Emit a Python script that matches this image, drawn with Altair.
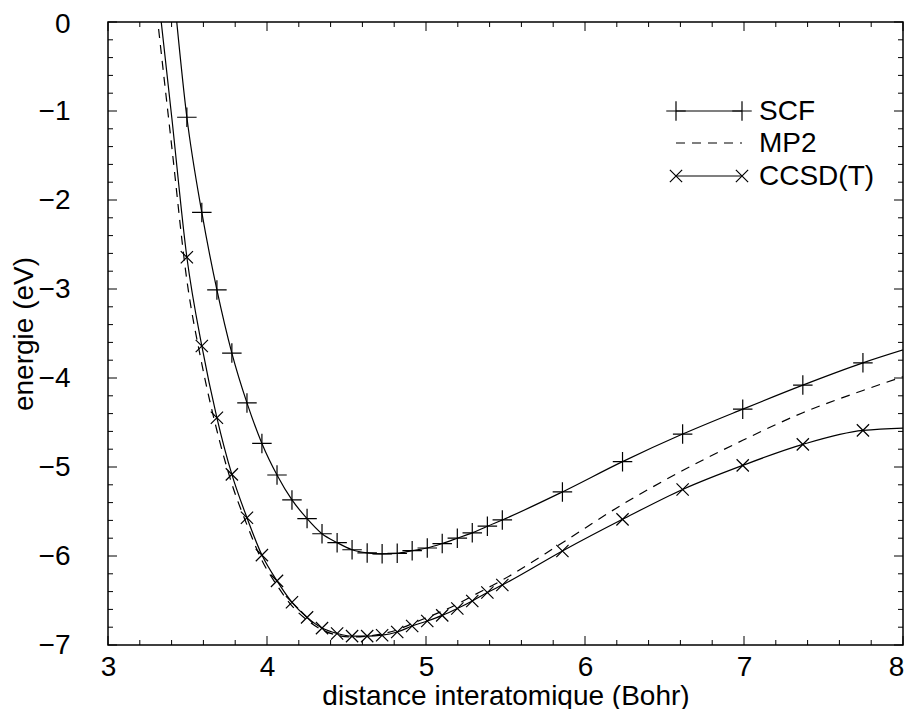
import altair as alt
import pandas as pd

# interatomic distances (Bohr) where the curves are sampled
x_line = [3.307, 3.401, 3.496, 3.590, 3.685, 3.779, 3.874, 3.968, 4.063, 4.157,
          4.252, 4.346, 4.441, 4.535, 4.630, 4.724, 4.819, 4.913, 5.008, 5.102,
          5.197, 5.291, 5.386, 5.480, 5.858, 6.236, 6.614, 6.992, 7.370, 7.748, 8.126]
# which samples carry a marker
marked = [False, False] + [True] * 28 + [False]

scf = [2.30, 0.57, -1.07, -2.14, -3.01, -3.72, -4.28, -4.735, -5.09, -5.37,
       -5.58, -5.75, -5.85, -5.93, -5.965, -5.975, -5.97, -5.94, -5.91, -5.86,
       -5.80, -5.74, -5.665, -5.595, -5.28, -4.94, -4.63, -4.35, -4.08, -3.83, -3.616]
mp2 = [0.10, -1.40, -2.90, -3.84, -4.59, -5.19, -5.65, -6.05, -6.33, -6.56,
       -6.72, -6.83, -6.89, -6.91, -6.90, -6.875, -6.83, -6.76, -6.69, -6.62,
       -6.54, -6.45, -6.36, -6.27, -5.85, -5.42, -5.04, -4.70, -4.39, -4.14, -3.91]
ccsd = [0.45, -1.07, -2.643, -3.64, -4.447, -5.083, -5.57, -5.99, -6.28, -6.52,
        -6.69, -6.81, -6.87, -6.90, -6.90, -6.89, -6.854, -6.787, -6.73, -6.667,
        -6.59, -6.505, -6.41, -6.326, -5.944, -5.588, -5.252, -4.982, -4.746, -4.589, -4.556]

series_names = ["SCF", "MP2", "CCSD(T)"]
x_major = [3, 4, 5, 6, 7, 8]
x_minor = [3.2, 3.4, 3.6, 3.8, 4.2, 4.4, 4.6, 4.8, 5.2, 5.4, 5.6, 5.8,
           6.2, 6.4, 6.6, 6.8, 7.2, 7.4, 7.6, 7.8]
y_major = [0, -1, -2, -3, -4, -5, -6, -7]
y_minor = [-0.2, -0.4, -0.6, -0.8, -1.2, -1.4, -1.6, -1.8, -2.2, -2.4, -2.6, -2.8,
           -3.2, -3.4, -3.6, -3.8, -4.2, -4.4, -4.6, -4.8, -5.2, -5.4, -5.6, -5.8,
           -6.2, -6.4, -6.6, -6.8]

W, H = 795, 623
FONT = "Liberation Sans"
FS = 28
PLUS = "M-1,0L1,0M0,-1L0,1"
XMARK = "M-1,-1L1,1M-1,1L1,-1"

xs = alt.Scale(domain=[3, 8], nice=False, zero=False)
ys = alt.Scale(domain=[-7, 0], nice=False, zero=False)

def line_df(vals, name):
    return pd.DataFrame({"x": x_line, "y": vals, "s": name, "m": marked})

df_scf = line_df(scf, series_names[0])
df_mp2 = line_df(mp2, series_names[1])
df_cc = line_df(ccsd, series_names[2])

X = alt.X("x:Q", scale=xs, title="distance interatomique (Bohr)",
          axis=alt.Axis(values=x_major, format="d", ticks=False, domain=False, grid=False,
                        labelFlush=False, labelFont=FONT, labelFontSize=FS, labelPadding=8,
                        labelOffset=alt.condition("datum.value == 8", alt.value(-7), alt.value(0)),
                        titleFont=FONT, titleFontSize=FS, titleFontWeight="normal",
                        titlePadding=1, labelColor="black", titleColor="black"))
Y = alt.Y("y:Q", scale=ys, title="energie (eV)",
          axis=alt.Axis(values=y_major, format="d", ticks=False, domain=False, grid=False,
                        labelFlush=False, labelFont=FONT, labelFontSize=FS, labelPadding=38,
                        labelOffset=alt.condition("datum.value == 0", alt.value(2), alt.value(0)),
                        titleFont=FONT, titleFontSize=FS, titleFontWeight="normal",
                        titlePadding=0, labelColor="black", titleColor="black"))

l_scf = alt.Chart(df_scf).mark_line(color="black", strokeWidth=1.2, clip=True,
                                    interpolate="monotone").encode(x=X, y=Y)
l_mp2 = alt.Chart(df_mp2).mark_line(color="black", strokeWidth=1.2, clip=True,
                                    strokeDash=[9, 7], interpolate="monotone").encode(x="x:Q", y="y:Q")
l_cc = alt.Chart(df_cc).mark_line(color="black", strokeWidth=1.2, clip=True,
                                  interpolate="monotone").encode(x="x:Q", y="y:Q")

p_scf = alt.Chart(df_scf[df_scf["m"]]).mark_point(
    shape=PLUS, size=380, filled=False, color="black", strokeWidth=1.2, opacity=1, clip=True
).encode(x="x:Q", y="y:Q")
p_cc = alt.Chart(df_cc[df_cc["m"]]).mark_point(
    shape=XMARK, size=150, filled=False, color="black", strokeWidth=1.2, opacity=1, clip=True
).encode(x="x:Q", y="y:Q")

# inward ticks on all four sides
def ticks(vals, length, axis):
    d = pd.DataFrame({"v": vals})
    if axis == "x":
        bot = alt.Chart(d).mark_rule(color="black", strokeWidth=1).encode(
            x=alt.X("v:Q", scale=xs), y=alt.value(H), y2=alt.value(H - length))
        top = alt.Chart(d).mark_rule(color="black", strokeWidth=1).encode(
            x=alt.X("v:Q", scale=xs), y=alt.value(0), y2=alt.value(length))
    else:
        bot = alt.Chart(d).mark_rule(color="black", strokeWidth=1).encode(
            y=alt.Y("v:Q", scale=ys), x=alt.value(0), x2=alt.value(length))
        top = alt.Chart(d).mark_rule(color="black", strokeWidth=1).encode(
            y=alt.Y("v:Q", scale=ys), x=alt.value(W), x2=alt.value(W - length))
    return [bot, top]

tick_layers = (ticks(x_major, 9, "x") + ticks(x_minor, 5, "x")
               + ticks(y_major, 9, "y") + ticks(y_minor, 5, "y"))

# key (top right)
one = pd.DataFrame({"a": [0]})
KX1, KX2, KT = 568, 634, 651
KY = [89, 121, 154]
key = []
for i, name in enumerate(series_names):
    dash = [9, 7] if name == "MP2" else [1, 0]
    key.append(alt.Chart(one).mark_rule(color="black", strokeWidth=1.2, strokeDash=dash).encode(
        x=alt.value(KX1), x2=alt.value(KX2), y=alt.value(KY[i])))
    key.append(alt.Chart(one).mark_text(align="left", baseline="middle", font=FONT,
                                        fontSize=FS, color="black", text=name).encode(
        x=alt.value(KT), y=alt.value(KY[i] + 1)))
    if name != "MP2":
        shp, sz = (PLUS, 380) if name == "SCF" else (XMARK, 150)
        for kx in (KX1, KX2):
            key.append(alt.Chart(one).mark_point(shape=shp, size=sz, filled=False, color="black",
                                                 strokeWidth=1.2, opacity=1).encode(
                x=alt.value(kx), y=alt.value(KY[i])))

chart = alt.layer(l_scf, l_mp2, l_cc, p_scf, p_cc, *tick_layers, *key).properties(
    width=W, height=H,
    autosize=alt.AutoSizeParams(type="none"),
    padding={"left": 100, "top": 14, "right": 1, "bottom": 64},
    background="white",
).configure_view(stroke="black", strokeWidth=1.5)

chart.save("out.html", embed_options={"renderer": "svg", "actions": False})
